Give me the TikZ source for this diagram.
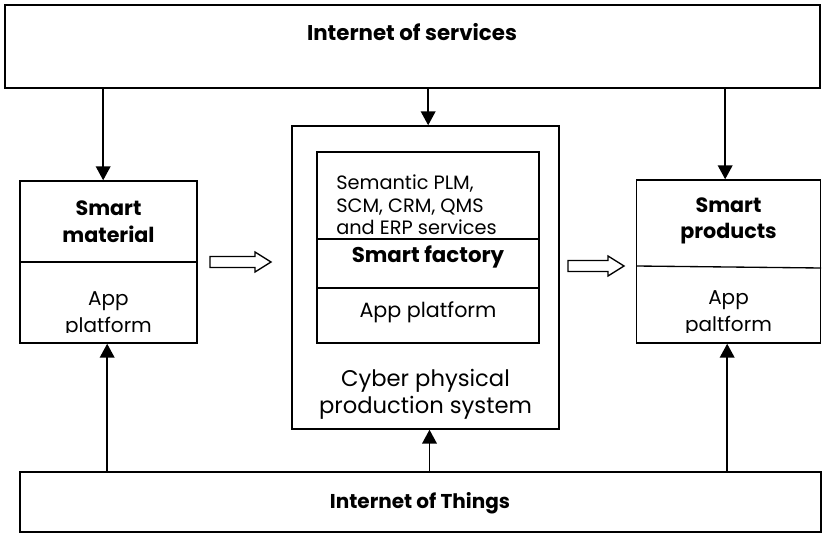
\documentclass[tikz,border=0pt]{standalone}
\usepackage{fontspec}
\setmainfont{Poppins}
\usepackage{tikz}
\usetikzlibrary{arrows.meta}

\tikzset{
  blk/.style={draw,line width=1.1pt,inner sep=0pt},
  sep/.style={line width=1pt},
  lbl/.style={inner sep=0.75pt,align=center,font=\fontsize{15}{20}\selectfont},
  boldlbl/.style={inner sep=0.75pt,align=center,font=\fontsize{15.5}{20}\selectfont\bfseries},
  flow/.style={line width=1.4pt,-{Triangle[length=10.5pt,width=11pt]}},
  hollow/.style={line width=1pt,line join=miter}
}

\begin{document}
\begin{tikzpicture}[x=0.75pt,y=0.75pt,yscale=-1,xscale=1]
\useasboundingbox (0,0) rectangle (824,534);

% Boxes
\node [blk,minimum width=611.25pt,minimum height=62.25pt] (ios) at (412.5,46.5) {};
\node [blk,minimum width=600.75pt,minimum height=45pt] (iot) at (420.5,502) {};
\node [blk,minimum width=132.75pt,minimum height=121.5pt] (mat) at (108.5,262) {};
\node [blk,minimum width=200.25pt,minimum height=227.25pt] (cpps) at (425.5,277.5) {};
\node [blk,minimum width=166.5pt,minimum height=143.25pt] (sf) at (428,247.5) {};
\node [blk,minimum width=138pt,minimum height=122.25pt] (prod) at (728.5,261.5) {};

% Dividers
\coordinate (sfa) at (317,239);
\coordinate (sfb) at (317,288);
\coordinate (pa) at (636,266);
\coordinate (pb) at (821,268);
\draw [sep] (mat.west) -- (mat.east);
\draw [sep] (sfa) -- (sfa -| sf.east);
\draw [sep] (sfb) -- (sfb -| sf.east);
\draw [sep] (pa) -- (pb);

% Text Node
\node [boldlbl,font=\fontsize{16}{18}\selectfont\bfseries] (iostxt) at (412,32) {Internet of services};
% Text Node
\node [boldlbl,font=\fontsize{15}{18}\selectfont\bfseries] (iottxt) at (420,503) {Internet of Things};
% Text Node
\node [boldlbl] (mattop) at (108.5,222) {Smart\\material};
% Text Node
\begin{scope}
\clip (20,262) rectangle (197,333);
\node [lbl] (matapp) at (108.5,315) {App\\platform};
\end{scope}
% Text Node
\node [lbl,align=left,anchor=west,font=\fontsize{14.5}{17}\selectfont] (sem) at (335,205) {Semantic PLM,\\SCM, CRM, QMS\\and ERP services};
% Text Node
\node [boldlbl,font=\fontsize{16}{18}\selectfont\bfseries] (sftxt) at (428,257) {Smart factory};
% Text Node
\node [lbl,font=\fontsize{15.5}{18}\selectfont] (sfapp) at (428,312) {App platform};
% Text Node
\node [lbl,font=\fontsize{17}{20}\selectfont] (cppstxt) at (425.5,394) {Cyber physical\\production system};
% Text Node
\node [boldlbl] (prodtop) at (728.5,221) {Smart\\products};
% Text Node
\begin{scope}
\clip (636,267) rectangle (821,333);
\node [lbl] (prodapp) at (728.5,314) {App\\paltform};
\end{scope}

% Hollow arrows
\coordinate (h1) at (210,262);
\coordinate (h2) at (568,266);
\draw [hollow] (h1) ++(0,-5.5) -- ++(45,0) -- ++(0,-4.5) -- ++(16,10) -- ++(-16,10) -- ++(0,-4.5) -- ++(-45,0) -- cycle;
\draw [hollow] (h2) ++(0,-5.5) -- ++(40,0) -- ++(0,-4.5) -- ++(16,10) -- ++(-16,10) -- ++(0,-4.5) -- ++(-40,0) -- cycle;

% Arrows
\draw [flow] ([xshift=-4pt]ios.south -| mat.north) -- ([xshift=-4pt]mat.north);
\draw [flow] ([xshift=2pt]ios.south -| cpps.north) -- ([xshift=2pt]cpps.north);
\draw [flow] ([xshift=-2.5pt]ios.south -| prod.north) -- ([xshift=-2.5pt]prod.north);
\draw [flow] ([xshift=-1pt]iot.north -| mat.south) -- ([xshift=-1pt]mat.south);
\draw [flow] ([xshift=3pt]iot.north -| cpps.south) -- ([xshift=3pt]cpps.south);
\draw [flow] ([xshift=-1pt]iot.north -| prod.south) -- ([xshift=-1pt]prod.south);
\end{tikzpicture}
\end{document}
